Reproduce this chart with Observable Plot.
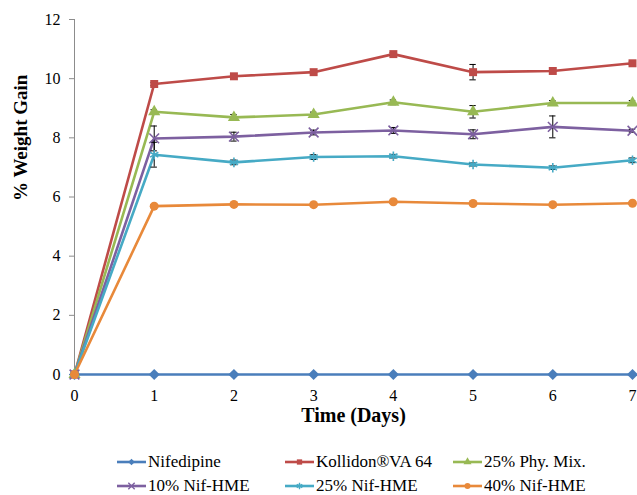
<!DOCTYPE html>
<html>
<head>
<meta charset="utf-8">
<script src="https://cdn.jsdelivr.net/npm/d3@7"></script>
<script src="https://cdn.jsdelivr.net/npm/@observablehq/plot@0.6"></script>
<style>
  html, body { margin: 0; padding: 0; background: #fff; }
  #wrap { width: 637px; font-family: "Liberation Serif", serif; }
  #legend { position: relative; width: 637px; height: 55px; font-size: 17px; color: #000; }
  .item { position: absolute; display: flex; align-items: center; white-space: nowrap; height: 20px; }
  .item svg { margin-right: 2px; }
</style>
</head>
<body>
<div id="wrap"><div id="chart"></div><div id="legend"></div></div>
<script>
// ---- data ----
const days = [0, 1, 2, 3, 4, 5, 6, 7];
const seriesNames = ["Nifedipine", "Kollidon®VA 64", "25% Phy. Mix.", "10% Nif-HME", "25% Nif-HME", "40% Nif-HME"];
const nifedipine = [0, 0, 0, 0, 0, 0, 0, 0];
const kollidon   = [0, 9.82, 10.08, 10.22, 10.83, 10.22, 10.26, 10.52];
const phyMix25   = [0, 8.88, 8.69, 8.79, 9.20, 8.88, 9.18, 9.18];
const nifHme10   = [0, 7.98, 8.04, 8.18, 8.25, 8.12, 8.37, 8.24];
const nifHme25   = [0, 7.43, 7.17, 7.35, 7.38, 7.10, 6.99, 7.24];
const nifHme40   = [0, 5.69, 5.75, 5.74, 5.84, 5.78, 5.74, 5.79];
// standard deviations (error bars)
const nifedipineErr = [0, 0, 0, 0, 0, 0, 0, 0];
const kollidonErr   = [0, 0.05, 0.05, 0.05, 0.05, 0.26, 0.05, 0.05];
const phyMix25Err   = [0, 0.07, 0.10, 0.08, 0.08, 0.21, 0.08, 0.08];
const nifHme10Err   = [0, 0.42, 0.15, 0.08, 0.10, 0.15, 0.37, 0.05];
const nifHme25Err   = [0, 0.42, 0.08, 0.08, 0.06, 0.05, 0.06, 0.08];
const nifHme40Err   = [0, 0.05, 0.04, 0.04, 0.05, 0.04, 0.04, 0.04];
const xTicks = [0, 1, 2, 3, 4, 5, 6, 7];
const yTicks = [0, 2, 4, 6, 8, 10, 12];

const FONT = "Liberation Serif";
const colors = ["#4a7ebb", "#be4b48", "#98b954", "#7d60a0", "#46aac5", "#e8893a"];
const symbols = ["diamond2", "square", "triangle", "times", "asterisk", "circle"];
const filled = [true, true, true, false, false, true];
const values = [nifedipine, kollidon, phyMix25, nifHme10, nifHme25, nifHme40];
const errs = [nifedipineErr, kollidonErr, phyMix25Err, nifHme10Err, nifHme25Err, nifHme40Err];

const rows = [];
seriesNames.forEach((name, s) => {
  days.forEach((d, i) => rows.push({series: name, idx: s, day: d, value: values[s][i], err: errs[s][i]}));
});

const marks = [
  Plot.ruleX([0], {stroke: "#8c8c8c", strokeWidth: 1}),
  Plot.axisY({ticks: yTicks, tickSize: 5, tickPadding: 9, stroke: "#8c8c8c", fill: "#000", fontSize: 16, fontFamily: FONT, label: null}),
  Plot.axisX({ticks: xTicks, tickSize: 0, tickPadding: 15, fill: "#000", fontSize: 16, fontFamily: FONT, tickFormat: d => String(d), label: null}),
  Plot.text(["Time (Days)"], {frameAnchor: "bottom", dy: 47, fontSize: 20, fontWeight: "bold", fontFamily: FONT, fill: "#000", text: d => d}),
  Plot.text(["% Weight Gain"], {frameAnchor: "left", dx: -54, dy: 4, rotate: -90, fontSize: 19, fontWeight: "bold", fontFamily: FONT, fill: "#000", text: d => d})
];
seriesNames.forEach((name, s) => {
  const data = rows.filter(r => r.idx === s);
  marks.push(Plot.line(data, {x: "day", y: "value", stroke: colors[s], strokeWidth: 2.6}));
});
seriesNames.forEach((name, s) => {
  const data = rows.filter(r => r.idx === s && r.err > 0);
  marks.push(Plot.ruleX(data, {x: "day", y1: d => d.value - d.err, y2: d => d.value + d.err, stroke: "#000", strokeWidth: 1}));
  marks.push(Plot.ruleY(data, {y: d => d.value + d.err, x1: d => d.day - 0.04, x2: d => d.day + 0.04, stroke: "#000", strokeWidth: 1}));
  marks.push(Plot.ruleY(data, {y: d => d.value - d.err, x1: d => d.day - 0.04, x2: d => d.day + 0.04, stroke: "#000", strokeWidth: 1}));
});
seriesNames.forEach((name, s) => {
  const data = rows.filter(r => r.idx === s);
  const opts = {x: "day", y: "value", symbol: () => symbols[s], r: s === 0 ? 5 : 4.5};
  if (filled[s]) { opts.fill = colors[s]; opts.stroke = "none"; }
  else { opts.stroke = colors[s]; opts.strokeWidth = 1.6; opts.fill = "none"; }
  marks.push(Plot.dot(data, opts));
});

const chart = Plot.plot({
  width: 637, height: 440,
  marginLeft: 74, marginRight: 5, marginTop: 19, marginBottom: 66,
  style: {fontFamily: FONT, fontSize: "16px", color: "#000", background: "#fff"},
  x: {domain: [0, 7]},
  y: {domain: [0, 12]},
  symbol: {type: "identity"},
  marks
});
document.getElementById("chart").appendChild(chart);

// ---- legend ----
const legend = document.getElementById("legend");
const lx = [117, 285, 453];
const ly = [22, 46];
const symMap = {diamond2: d3.symbolDiamond2, square: d3.symbolSquare, triangle: d3.symbolTriangle, times: d3.symbolTimes, asterisk: d3.symbolAsterisk, circle: d3.symbolCircle};
seriesNames.forEach((name, s) => {
  const col = s % 3, row = Math.floor(s / 3);
  const item = document.createElement("div");
  item.className = "item";
  item.style.left = lx[col] + "px";
  item.style.top = (ly[row] - 10) + "px";
  const path = d3.symbol(symMap[symbols[s]], 28)();
  const svg = `<svg width="29" height="20" viewBox="0 0 29 20"><line x1="0" y1="10" x2="29" y2="10" stroke="${colors[s]}" stroke-width="2.6"/>` +
    `<path transform="translate(14.5,10)" d="${path}" fill="${filled[s] ? colors[s] : "none"}" stroke="${filled[s] ? "none" : colors[s]}" stroke-width="1.4"/></svg>`;
  item.innerHTML = svg + `<span>${name}</span>`;
  legend.appendChild(item);
});
</script>
</body>
</html>
